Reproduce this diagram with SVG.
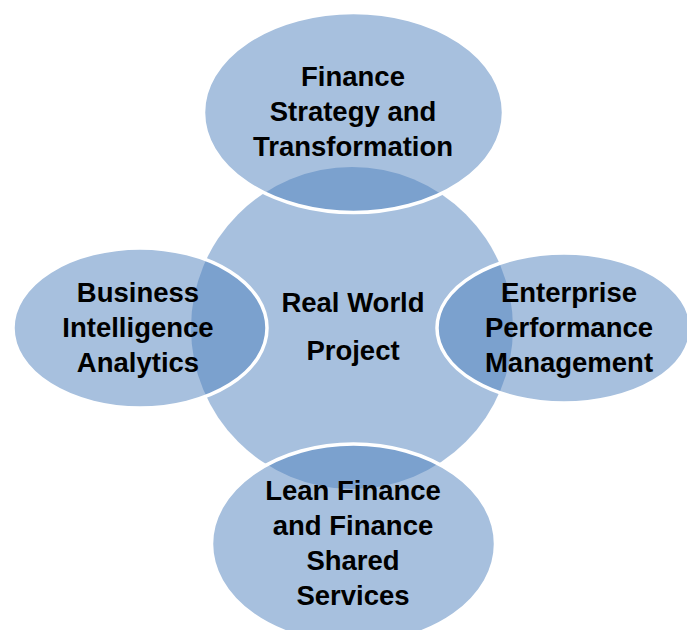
<svg xmlns="http://www.w3.org/2000/svg" width="687" height="630" viewBox="0 0 687 630">
<style>
.shape{fill:#4f81bd;fill-opacity:0.5;stroke:#ffffff;stroke-width:3.5}
.core{fill:#4f81bd;fill-opacity:0.5;stroke:none}
.lbl{font-family:"Liberation Sans",Arial,sans-serif;font-weight:bold;font-size:27.5px;fill:#000000;text-anchor:middle}
</style>
<rect width="687" height="630" fill="#ffffff"/>
<g id="center">
<circle class="core" cx="352" cy="328" r="161"/>
</g>
<g id="top">
<ellipse class="shape" cx="353.5" cy="112.5" rx="150" ry="100"/>
<text class="lbl" x="353" y="86">Finance</text>
<text class="lbl" x="353" y="121">Strategy and</text>
<text class="lbl" x="353" y="156">Transformation</text>
</g>
<g id="left">
<ellipse class="shape" cx="140" cy="328" rx="127" ry="80"/>
<text class="lbl" x="138" y="302">Business</text>
<text class="lbl" x="138" y="337">Intelligence</text>
<text class="lbl" x="138" y="372">Analytics</text>
</g>
<g id="right">
<ellipse class="shape" cx="564" cy="328" rx="127" ry="75"/>
<text class="lbl" x="569" y="302">Enterprise</text>
<text class="lbl" x="569" y="337">Performance</text>
<text class="lbl" x="569" y="372">Management</text>
</g>
<g id="bottom">
<ellipse class="shape" cx="353.5" cy="544" rx="142" ry="100"/>
<text class="lbl" x="353" y="500">Lean Finance</text>
<text class="lbl" x="353" y="535">and Finance</text>
<text class="lbl" x="353" y="570">Shared</text>
<text class="lbl" x="353" y="605">Services</text>
</g>
<g id="center-label">
<text class="lbl" x="353" y="312">Real World</text>
<text class="lbl" x="353" y="360">Project</text>
</g>
<g id="connectors"></g>
</svg>
